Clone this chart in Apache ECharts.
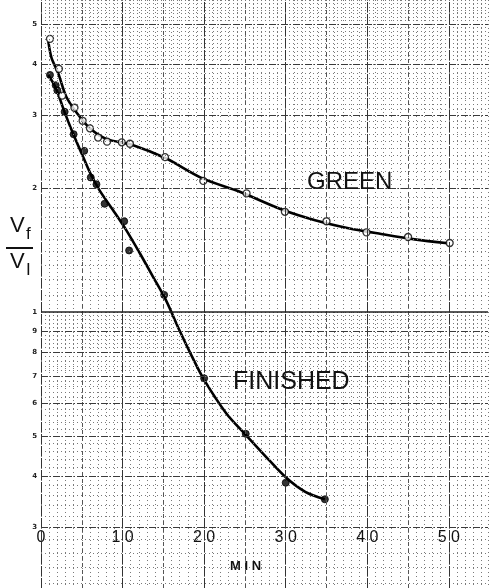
<!DOCTYPE html>
<html><head><meta charset="utf-8">
<script src="https://cdn.jsdelivr.net/npm/echarts@6/dist/echarts.min.js"></script>
<style>html,body{margin:0;padding:0;background:#fff}#c{width:491px;height:588px}</style>
</head><body><div id="c"></div>
<script>
// Measured points (open circles = GREEN, filled = FINISHED)
const greenX = [1.1, 2.2, 2.6, 4.1, 5.1, 6.0, 7.0, 8.1, 9.9, 10.9, 15.2, 19.9, 25.2, 29.9, 35.0, 39.9, 45.0, 50.1];
const greenY = [4.6, 3.89, 3.35, 3.13, 2.91, 2.79, 2.65, 2.59, 2.58, 2.56, 2.375, 2.08, 1.94, 1.75, 1.66, 1.56, 1.52, 1.47];
const finX = [1.1, 1.8, 2.0, 2.9, 4.0, 5.3, 6.1, 6.8, 7.8, 10.2, 10.8, 15.1, 20.0, 25.1, 30.0, 34.8];
const finY = [3.76, 3.55, 3.45, 3.06, 2.70, 2.46, 2.12, 2.04, 1.83, 1.66, 1.41, 1.10, 0.69, 0.506, 0.385, 0.351];
// Hand-drawn fitted curves
const gCurveX = [0.9, 1.3, 2.1, 3.1, 4.4, 6.0, 8.0, 11.3, 15.3, 19.8, 24.3, 29.6, 33.6, 37.7, 41.7, 45.8, 49.9];
const gCurveY = [4.53, 4.13, 3.80, 3.33, 3.04, 2.79, 2.63, 2.54, 2.36, 2.11, 1.96, 1.77, 1.67, 1.597, 1.546, 1.50, 1.468];
const fCurveX = [0.9, 1.8, 2.9, 3.9, 5.0, 6.0, 7.2, 8.8, 10.45, 12.1, 13.7, 15.3, 17.0, 18.5, 20.0, 22.7, 25.1, 27.5, 30.0, 32.4, 34.8];
const fCurveY = [3.76, 3.50, 3.05, 2.72, 2.42, 2.18, 1.97, 1.77, 1.58, 1.39, 1.22, 1.07, 0.90, 0.78, 0.684, 0.568, 0.503, 0.447, 0.397, 0.366, 0.351];
// Axis ticks / labels
const xLabelTicks = [0, 10, 20, 30, 40, 50];
const xHalfTicks = [5, 15, 25, 35, 45];
const yMajorTicks = [0.3, 0.4, 0.5, 0.6, 0.7, 0.8, 0.9, 1, 2, 3, 4, 5];
const yTickLabels = ['3', '4', '5', '6', '7', '8', '9', '1', '2', '3', '4', '5'];

const X_MAX = 54.8, Y_MIN = 0.2138, Y_MAX = 5.716;
// graph-paper minor rulings
const yMinor = [];
for (let i = 22; i <= 100; i += 2) yMinor.push(i / 100);
for (let i = 11; i <= 57; i++) yMinor.push(i / 10);

const zip = (a, b) => a.map((v, i) => [v, b[i]]);
const chart = echarts.init(document.getElementById('c'));
const minorStyle = { color: '#7a7a7a', type: [1, 3], width: 1 };
const majorStyle = { color: '#3a3a3a', type: [7, 2, 1, 2], width: 1 };

chart.setOption({
  backgroundColor: '#fff',
  animation: false,
  grid: { left: 41, right: 0, top: 0, bottom: 0 },
  xAxis: {
    type: 'value', min: 0, max: X_MAX, interval: 1,
    axisLine: { show: false }, axisTick: { show: false },
    splitLine: { show: true, lineStyle: minorStyle },
    axisLabel: {
      inside: true, margin: 42, interval: 0,
      fontFamily: 'Liberation Sans', fontSize: 16, color: '#111',
      formatter: v => xLabelTicks.indexOf(v) >= 0 ? String(v).split('').join(' ') : ''
    }
  },
  yAxis: {
    type: 'log', min: Y_MIN, max: Y_MAX,
    axisLine: { show: false }, axisTick: { show: false }, axisLabel: { show: false },
    splitLine: { show: false }
  },
  series: [
    {
      type: 'line', data: [[0, 1]], symbol: 'none', lineStyle: { opacity: 0 }, silent: true, z: 1,
      markLine: {
        silent: true, symbol: 'none', animation: false,
        label: { show: false },
        data: [
          ...yMinor.map(v => ({ yAxis: v, lineStyle: minorStyle })),
          ...xHalfTicks.map(v => ({ xAxis: v, lineStyle: { color: '#555', type: [4, 3], width: 1 } })),
          ...xLabelTicks.map(v => ({ xAxis: v, lineStyle: { color: '#333', type: [10, 2], width: 1 } })),
          ...yMajorTicks.map((v, i) => ({
            yAxis: v,
            lineStyle: v === 1 ? { color: '#222', type: 'solid', width: 1.5 } : majorStyle,
            label: { show: true, position: 'start', distance: 4, fontSize: 7, fontWeight: 'bold',
              fontFamily: 'DejaVu Sans', color: '#222', formatter: yTickLabels[i] }
          }))
        ]
      }
    },
    { name: 'GREEN curve', type: 'line', data: zip(gCurveX, gCurveY), smooth: 0.3, symbol: 'none',
      lineStyle: { color: '#000', width: 2.6 }, z: 3 },
    { name: 'FINISHED curve', type: 'line', data: zip(fCurveX, fCurveY), smooth: 0.3, symbol: 'none',
      lineStyle: { color: '#000', width: 2.6 }, z: 3 },
    { name: 'GREEN', type: 'scatter', data: zip(greenX, greenY), symbol: 'circle', symbolSize: 7,
      itemStyle: { color: '#fff', borderColor: '#000', borderWidth: 1.3 }, z: 4 },
    { name: 'FINISHED', type: 'scatter', data: zip(finX, finY), symbol: 'circle', symbolSize: 7,
      itemStyle: { color: '#000', borderColor: '#000', borderWidth: 1 }, z: 4 }
  ],
  graphic: [
    { type: 'text', left: 307, top: 170, z: 10, style: { text: 'GREEN', font: '24px "Liberation Sans"', fill: '#111' } },
    { type: 'text', left: 233, top: 370, z: 10, style: { text: 'FINISHED', font: '25px "Liberation Sans"', fill: '#111' } },
    { type: 'text', left: 230, top: 560, z: 10, style: { text: 'M I N', font: 'bold 13px "Liberation Sans"', fill: '#111' } },
    { type: 'text', left: 10, top: 215, z: 10, style: { text: 'V', font: '22px "Liberation Sans"', fill: '#111' } },
    { type: 'text', left: 26, top: 226, z: 10, style: { text: 'f', font: '17px "Liberation Sans"', fill: '#111' } },
    { type: 'line', z: 10, shape: { x1: 6, y1: 248, x2: 33, y2: 248 }, style: { stroke: '#111', lineWidth: 2 } },
    { type: 'text', left: 10, top: 251, z: 10, style: { text: 'V', font: '22px "Liberation Sans"', fill: '#111' } },
    { type: 'text', left: 26, top: 262, z: 10, style: { text: 'I', font: '17px "Liberation Sans"', fill: '#111' } }
  ]
});
</script>
</body></html>
